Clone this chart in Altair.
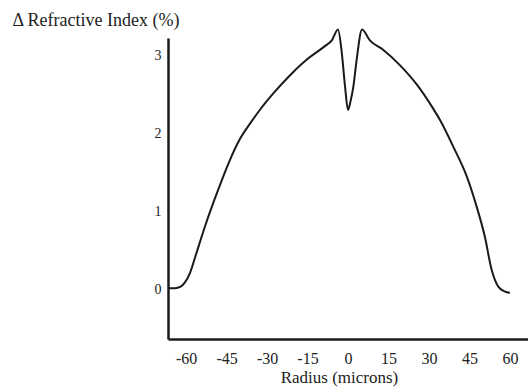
import altair as alt
import pandas as pd

radius = [-66.7, -64.2, -62.0, -60.5, -58.5, -56.8, -53.1, -48.1, -44.0, -40.0, -36.0,
          -33.1, -27.2, -21.0, -14.7, -8.8, -6.0, -3.7, -2.3, -1.1, 0.0, 1.0,
          2.0, 3.2, 5.2, 8.1, 13.0, 19.3, 25.6, 31.5, 34.1, 39.0, 44.0, 47.7, 50.7,
          53.2, 55.7, 58.0, 60.0]
delta = [0.02, 0.02, 0.04, 0.09, 0.22, 0.40, 0.80, 1.28, 1.64, 1.93, 2.14,
         2.28, 2.53, 2.76, 2.96, 3.11, 3.19, 3.33, 3.03, 2.60, 2.30, 2.42,
         2.60, 2.94, 3.33, 3.19, 3.07, 2.87, 2.62, 2.32, 2.17, 1.83, 1.45, 1.06, 0.68,
         0.26, 0.04, -0.02, -0.04]
x_ticks = [-60, -45, -30, -15, 0, 15, 30, 45, 60]
y_ticks = [0, 1, 2, 3]

df = pd.DataFrame({"r": radius, "d": delta})

FONT = "Liberation Serif"

chart = alt.Chart(df).mark_line(
    color="#1a1a1a", strokeWidth=2, interpolate="monotone", clip=False
).encode(
    x=alt.X("r:Q", scale=alt.Scale(domain=[-66.7, 66.7], nice=False, zero=False),
            axis=alt.Axis(values=x_ticks, title="Radius (microns)", grid=False, ticks=False,
                          labelExpr="'' + datum.value",
                          domainColor="#1a1a1a", domainWidth=2.5, labelFont=FONT,
                          labelFontSize=16, labelColor="#222", labelPadding=11,
                          titleFont=FONT, titleFontSize=17, titleFontWeight="normal",
                          titleColor="#222", titleX=171, titleY=43,
                          titleBaseline="alphabetic", titleAnchor="middle")),
    y=alt.Y("d:Q", scale=alt.Scale(domain=[-0.63, 3.22], nice=False, zero=False),
            axis=alt.Axis(values=y_ticks, title="\u0394  Refractive Index (%)", grid=False,
                          ticks=False, domainColor="#1a1a1a", domainWidth=2.5,
                          labelFont=FONT, labelFontSize=14, labelColor="#222",
                          labelPadding=7, titleFont=FONT, titleFontSize=18,
                          titleFontWeight="normal", titleColor="#222", titleAngle=0,
                          titleX=-156, titleY=-13, titleAlign="left",
                          titleBaseline="alphabetic")),
).properties(
    width=360, height=301,
    autosize=alt.AutoSizeParams(type="none"),
    padding={"left": 168, "top": 38, "right": 0, "bottom": 49},
).configure(background="white").configure_view(strokeWidth=0, stroke="transparent")

chart.save("out.html", embed_options={"renderer": "svg", "actions": False})
